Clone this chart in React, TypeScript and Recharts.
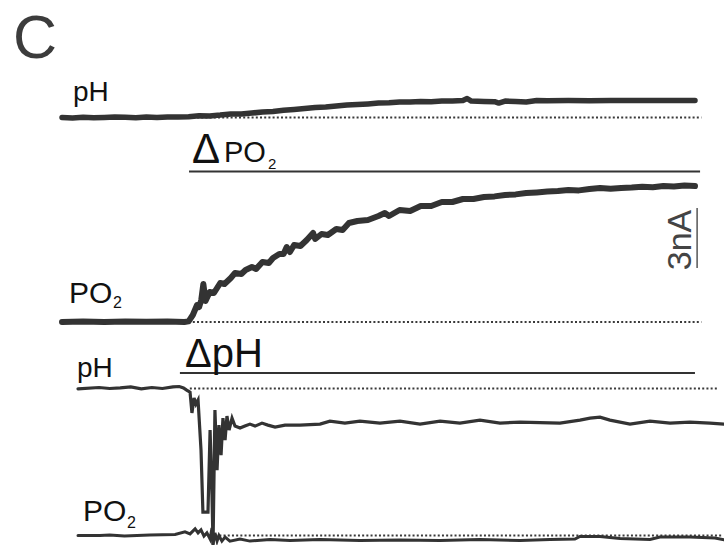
import { LineChart, Line, XAxis, YAxis } from "recharts";

const W = 724;
const H = 545;
const PX_PER_S = 2.11;
const PX_PER_NA = 20;

// left edge of each block and pixel height of each trace's baseline
const TOP_X0 = 62;
const BOT_X0 = 78;
const TOP_PH_BASE = 117.5;
const TOP_PO2_BASE = 322;
const BOT_PH_BASE = 388.5;
const BOT_PO2_BASE = 535.5;

// ΔPO2 block, time in s, current in nA
const topPhT = [0, 5, 10, 15, 20, 25, 30, 35, 40, 45, 50, 55, 60, 65, 70, 75, 80, 85, 90, 95, 100, 105, 110, 115, 120, 125, 130, 135, 140, 145, 150, 155, 160, 165, 170, 175, 180, 185, 190, 192, 194, 200, 205, 207, 210, 215, 220, 225, 230, 240, 250, 260, 270, 280, 290, 300];
const topPhV = [0, -0.02, 0.01, -0.01, 0, 0.02, 0.01, -0.01, 0.02, 0, 0.02, 0.03, 0.04, 0.09, 0.08, 0.12, 0.18, 0.17, 0.22, 0.28, 0.3, 0.36, 0.4, 0.45, 0.5, 0.52, 0.57, 0.62, 0.65, 0.68, 0.72, 0.74, 0.78, 0.77, 0.8, 0.79, 0.82, 0.83, 0.85, 0.95, 0.82, 0.8, 0.79, 0.72, 0.82, 0.8, 0.78, 0.85, 0.84, 0.85, 0.84, 0.85, 0.85, 0.85, 0.85, 0.85];

const topPo2T = [0, 10, 20, 30, 40, 50, 58, 60, 62, 64, 65, 66, 67, 68, 70, 72, 75, 77, 80, 82, 85, 87, 90, 92, 95, 98, 100, 103, 105, 106.5, 108, 110, 113, 116, 119, 120, 123, 126, 130, 133, 136, 140, 145, 150, 153, 155, 160, 165, 170, 175, 180, 185, 190, 195, 200, 205, 210, 215, 220, 225, 230, 235, 240, 245, 250, 255, 260, 265, 270, 275, 280, 285, 290, 295, 300];
const topPo2V = [0, 0.02, 0, 0.03, 0.01, 0.02, 0, 0.03, 0.35, 0.85, 0.75, 1.1, 1.9, 1.05, 1.5, 1.45, 1.95, 1.9, 2.2, 2.45, 2.4, 2.6, 2.75, 2.65, 3.0, 2.95, 3.2, 3.4, 3.4, 3.75, 3.5, 3.85, 3.8, 4.1, 4.45, 4.15, 4.4, 4.35, 4.65, 4.6, 4.95, 5.05, 5.1, 5.3, 5.45, 5.3, 5.6, 5.55, 5.8, 5.8, 6.0, 6.0, 6.15, 6.15, 6.25, 6.28, 6.35, 6.38, 6.45, 6.48, 6.52, 6.55, 6.6, 6.58, 6.65, 6.7, 6.66, 6.7, 6.72, 6.76, 6.74, 6.8, 6.78, 6.83, 6.8];

const topPhDots = [60, 303];
const topPo2Dots = [60, 303];
const dPo2Bar = [60.2, 302.4];
const dPo2BarLevel = 7.52;
const scaleBarT = 301;
const scaleBarNA = [2.7, 5.7];

// ΔpH block
const botPhT = [0, 10, 15, 20, 25, 30, 35, 40, 45, 48, 50, 51.5, 53.1, 54, 55, 55.9, 56.9, 58.3, 59.2, 61.6, 62.6, 63.5, 64, 64.9, 65.9, 66.8, 67.8, 68.7, 69.7, 70.6, 71.6, 73, 74.4, 76.8, 79.1, 81.5, 83.9, 87.2, 90, 93.4, 98.1, 105.2, 114.7, 119.4, 126.5, 133.6, 143.1, 152.6, 162.1, 171.6, 181, 190.5, 200, 209.5, 228.4, 237.9, 242.7, 247.4, 252.1, 261.6, 271.1, 280.6, 290, 299.5, 306.2];
const botPhV = [-0.02, 0.05, 0, 0.03, 0.08, -0.02, 0.05, 0, 0.08, 0.1, 0.03, -0.08, -0.18, -1.22, -0.48, -0.78, -0.58, -3.08, -6.18, -6.18, -2.08, -5.33, -7.83, -1.08, -4.08, -1.83, -3.33, -1.48, -2.58, -1.38, -2.08, -1.48, -1.88, -1.98, -1.88, -1.78, -1.88, -1.73, -1.83, -1.93, -1.83, -1.83, -1.78, -1.63, -1.73, -1.63, -1.73, -1.63, -1.78, -1.63, -1.73, -1.58, -1.73, -1.68, -1.73, -1.58, -1.48, -1.43, -1.58, -1.78, -1.63, -1.73, -1.68, -1.73, -1.78];

const botPo2T = [0, 10.4, 15, 22, 34, 46, 50.7, 53.1, 55.5, 56.9, 58.3, 59.7, 61.1, 62.6, 63.5, 64, 64.9, 65.9, 66.8, 68.2, 69.7, 72, 76.8, 81.5, 91, 100.5, 114.7, 133.6, 152.6, 171.6, 190.5, 209.5, 223.7, 235.5, 237.9, 247.4, 256.9, 271.1, 275.8, 290, 301.9, 306.2];
const botPo2V = [0, 0, 0.03, -0.03, 0.02, 0.05, 0.18, 0.08, 0.33, 0.13, 0.28, -0.03, 0.13, -0.18, 0.38, -0.43, 0.13, -0.28, 0, -0.28, -0.08, -0.28, -0.18, -0.28, -0.2, -0.25, -0.2, -0.25, -0.22, -0.25, -0.2, -0.25, -0.2, -0.18, -0.05, -0.05, -0.15, -0.2, -0.08, -0.08, -0.13, -0.22];

const botPhDots = [53, 303.3];
const botPo2Dots = [65, 305];
const dPhBar = [48.3, 292.4];
const dPhBarLevel = 0.78;

const zip = (t: number[], v: number[]) => t.map((x, i) => ({ t: x, v: v[i] }));
const flat = (t: number[], v: number) => t.map((x) => ({ t: x, v }));

const xDomain = (x0: number) => [-x0 / PX_PER_S, (W - x0) / PX_PER_S];
const yDomain = (base: number) => [(base - H) / PX_PER_NA, base / PX_PER_NA];

const INK = "#333";
const FONT = "'Liberation Sans', Arial, sans-serif";

export default function App() {
  const common = { dot: false, isAnimationActive: false, type: "linear" as const, dataKey: "v" };
  const dotted = { ...common, stroke: "#3a3a3a", strokeWidth: 2, strokeDasharray: "2 2.2" };

  return (
    <div style={{ position: "absolute", left: 0, top: 0, width: W, height: H, background: "#fff" }}>
      <LineChart width={W} height={H} margin={{ top: 0, right: 0, bottom: 0, left: 0 }}>
        <XAxis xAxisId="top" type="number" dataKey="t" hide allowDataOverflow domain={xDomain(TOP_X0)} />
        <XAxis xAxisId="bot" type="number" dataKey="t" hide allowDataOverflow domain={xDomain(BOT_X0)} />
        <YAxis yAxisId="topPh" type="number" hide allowDataOverflow domain={yDomain(TOP_PH_BASE)} />
        <YAxis yAxisId="topPo2" type="number" hide allowDataOverflow domain={yDomain(TOP_PO2_BASE)} />
        <YAxis yAxisId="botPh" type="number" hide allowDataOverflow domain={yDomain(BOT_PH_BASE)} />
        <YAxis yAxisId="botPo2" type="number" hide allowDataOverflow domain={yDomain(BOT_PO2_BASE)} />

        {/* baselines */}
        <Line {...dotted} xAxisId="top" yAxisId="topPh" data={flat(topPhDots, 0)} />
        <Line {...dotted} xAxisId="top" yAxisId="topPo2" data={flat(topPo2Dots, 0)} />
        <Line {...dotted} xAxisId="bot" yAxisId="botPh" data={flat(botPhDots, 0)} />
        <Line {...dotted} xAxisId="bot" yAxisId="botPo2" data={flat(botPo2Dots, 0)} />

        {/* stimulus bars + scale bar */}
        <Line {...common} xAxisId="top" yAxisId="topPo2" data={flat(dPo2Bar, dPo2BarLevel)} stroke={INK} strokeWidth={2} />
        <Line {...common} xAxisId="bot" yAxisId="botPh" data={flat(dPhBar, dPhBarLevel)} stroke={INK} strokeWidth={2} />
        <Line {...common} xAxisId="top" yAxisId="topPo2" data={scaleBarNA.map((v) => ({ t: scaleBarT, v }))} stroke="#555" strokeWidth={1.5} />

        {/* traces */}
        <Line {...common} xAxisId="top" yAxisId="topPh" data={zip(topPhT, topPhV)} stroke={INK} strokeWidth={5.5} strokeLinecap="round" strokeLinejoin="round" />
        <Line {...common} xAxisId="top" yAxisId="topPo2" data={zip(topPo2T, topPo2V)} stroke={INK} strokeWidth={6} strokeLinecap="round" strokeLinejoin="round" />
        <Line {...common} xAxisId="bot" yAxisId="botPh" data={zip(botPhT, botPhV)} stroke={INK} strokeWidth={3.2} strokeLinecap="round" />
        <Line {...common} xAxisId="bot" yAxisId="botPo2" data={zip(botPo2T, botPo2V)} stroke={INK} strokeWidth={3} strokeLinecap="round" />
      </LineChart>

      <svg width={W} height={H} style={{ position: "absolute", left: 0, top: 0, pointerEvents: "none" }} fontFamily={FONT}>
        <text x={13} y={58} fontSize={61} fill="#3c3c3c">C</text>
        <text x={73} y={101} fontSize={28} fill="#111">pH</text>
        <text x={192} y={163} fontSize={42} fill="#111">Δ</text>
        <text x={224} y={162} fontSize={29} fill="#111">PO</text>
        <text x={268} y={169} fontSize={15} fill="#111">2</text>
        <text x={69} y={303} fontSize={30} fill="#111">PO</text>
        <text x={113} y={308} fontSize={16} fill="#111">2</text>
        <text x={691} y={240} fontSize={34} fill="#444" textAnchor="middle" transform="rotate(-90 691 240)">3nA</text>
        <text x={185} y={367} fontSize={40} fill="#111">ΔpH</text>
        <text x={77} y={377} fontSize={28} fill="#111">pH</text>
        <text x={83} y={521} fontSize={30} fill="#111">PO</text>
        <text x={127} y={528} fontSize={16} fill="#111">2</text>
      </svg>
    </div>
  );
}
